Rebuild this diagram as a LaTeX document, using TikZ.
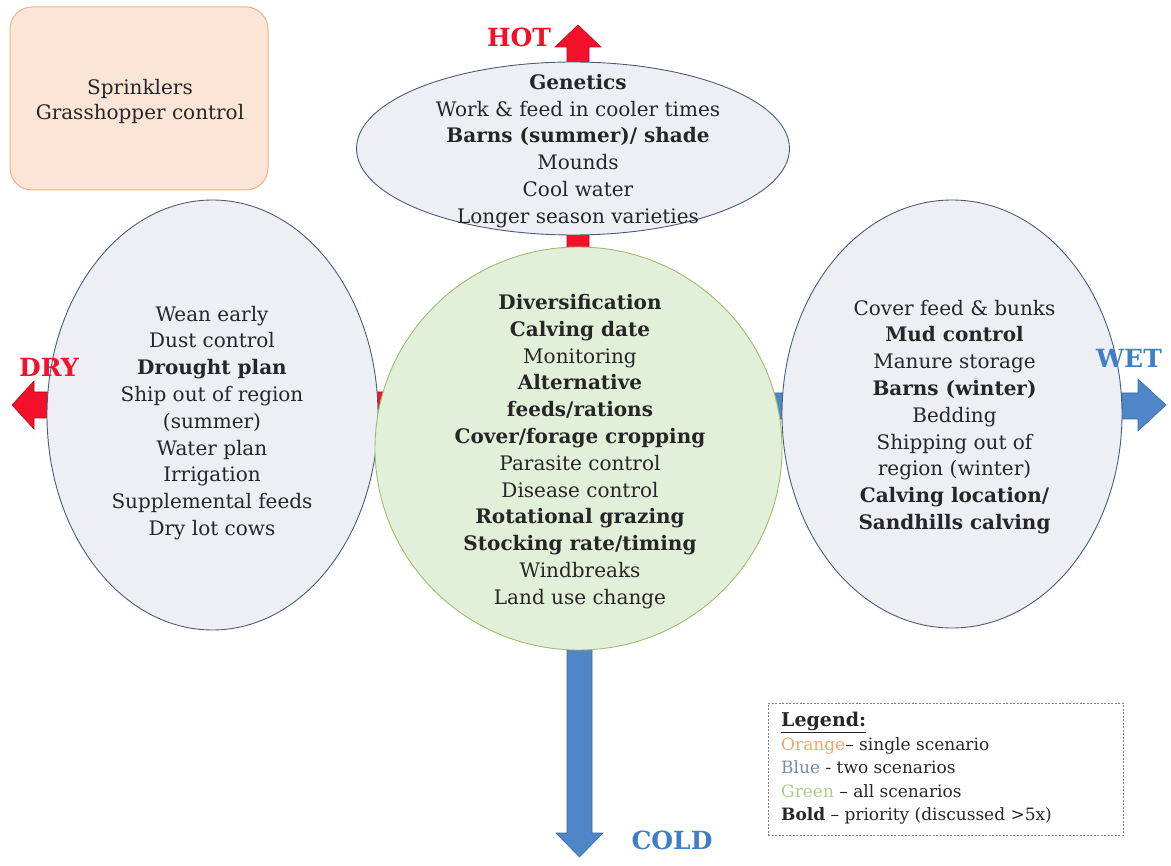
\documentclass[tikz,border=0pt]{standalone}
\usepackage{fontspec}
\setmainfont{DejaVu Serif}
\usetikzlibrary{shapes.geometric,calc}
\definecolor{peachfill}{HTML}{FBE5D6}
\definecolor{peachline}{HTML}{F4B183}
\definecolor{grayfill}{HTML}{EDEFF4}
\definecolor{shapeline}{HTML}{4D5D78}
\definecolor{greenfill}{HTML}{E2EFD9}
\definecolor{greenline}{HTML}{9DBE6E}
\definecolor{hotred}{HTML}{F2102A}
\definecolor{coldblue}{HTML}{4E86C8}
\definecolor{labelblue}{HTML}{3F7FC6}
\definecolor{legorange}{HTML}{F4A46E}
\definecolor{legblue}{HTML}{7A8AA8}
\definecolor{leggreen}{HTML}{A8CF8C}
\definecolor{txtcol}{HTML}{262626}
\tikzset{
  ellip/.style={ellipse, draw=shapeline, line width=0.9pt, fill=grayfill, inner sep=0pt},
  greencirc/.style={ellipse, draw=greenline, line width=0.9pt, fill=greenfill, inner sep=0pt},
  body/.style={align=center, text=txtcol, inner sep=0pt, font=\fontsize{20}{26.8}\selectfont},
  axislabel/.style={font=\fontsize{25}{25}\selectfont\bfseries, inner sep=0pt},
  redarrow/.style={fill=hotred, draw=hotred!75!black, line width=0.6pt},
  bluearrow/.style={fill=coldblue, draw=coldblue!80!black, line width=0.6pt},
  legendbox/.style={draw=gray, dash pattern=on 2pt off 1.5pt, line width=0.7pt, inner sep=0pt},
  singlebox/.style={draw=peachline, fill=peachfill, rounded corners=22pt, line width=1pt, inner sep=0pt}
}
\begin{document}
\begin{tikzpicture}[x=1pt,y=-1pt]
\useasboundingbox (0,0) rectangle (1171,866);
% axis arrows (behind shapes)
\draw[redarrow] (567,300) -- (567,47) -- (555,47) -- (578,25) -- (601,47) -- (589,47) -- (589,300) -- cycle;
\draw[redarrow] (400,392) -- (34,392) -- (34,381) -- (12,405) -- (34,429) -- (34,418) -- (400,418) -- cycle;
\draw[bluearrow] (760,393) -- (1138,393) -- (1138,379) -- (1166,405) -- (1138,431) -- (1138,419) -- (760,419) -- cycle;
\draw[bluearrow] (567,600) -- (567,833) -- (556,833) -- (579.5,857) -- (603,833) -- (592,833) -- (592,600) -- cycle;
% shapes
\node[ellip, minimum width=433pt, minimum height=173pt] (hotE) at (573,148.5) {};
\node[ellip, minimum width=331pt, minimum height=430pt] (dryE) at (212.5,415) {};
\node[ellip, minimum width=340pt, minimum height=428pt] (wetE) at (952,414) {};
\node[greencirc, minimum width=407pt, minimum height=403pt] (allC) at (578.5,448.5) {};
% axis labels
\node[axislabel, text=hotred] (hot) at (519,37) {HOT};
\node[axislabel, text=hotred] (dry) at (49,367) {DRY};
\node[axislabel, text=labelblue] (wet) at (1129,358) {WET};
\node[axislabel, text=labelblue] (cold) at (672,840) {COLD};
% texts
\node[body] (hotT) at (578,151) {\textbf{Genetics}\\Work \& feed in cooler times\\\textbf{Barns (summer)/ shade}\\Mounds\\Cool water\\Longer season varieties};
\node[body] (dryT) at (212,423) {Wean early\\Dust control\\\textbf{Drought plan}\\Ship out of region\\(summer)\\Water plan\\Irrigation\\Supplemental feeds\\Dry lot cows};
\node[body] (wetT) at (954.5,417) {Cover feed \& bunks\\\textbf{Mud control}\\Manure storage\\\textbf{Barns (winter)}\\Bedding\\Shipping out of\\region (winter)\\\textbf{Calving location/}\\\textbf{Sandhills calving}};
\node[body] (allT) at (580,451.5) {\textbf{Diversification}\\\textbf{Calving date}\\Monitoring\\\textbf{Alternative}\\\textbf{feeds/rations}\\\textbf{Cover/forage cropping}\\Parasite control\\Disease control\\\textbf{Rotational grazing}\\\textbf{Stocking rate/timing}\\Windbreaks\\Land use change};
% single-scenario box
\node[singlebox, minimum width=258pt, minimum height=183pt] (single) at (139,98.5) {};
\node[body, font=\fontsize{20}{25}\selectfont] (singleT) at (140,101) {Sprinklers\\Grasshopper control};
% legend
\node[legendbox, anchor=north west, minimum width=355pt, minimum height=132pt] (legend) at (768,703) {};
\node[anchor=north west, align=left, inner sep=0pt, text=txtcol, font=\fontsize{17}{23.5}\selectfont] (legendT) at (781,712) {{\fontsize{19}{23}\selectfont\underline{\textbf{Legend:}}}\\{\color{legorange}Orange}– single scenario\\{\color{legblue}Blue} - two scenarios\\{\color{leggreen}Green} – all scenarios\\\textbf{Bold} – priority (discussed >5x)};
\end{tikzpicture}
\end{document}
